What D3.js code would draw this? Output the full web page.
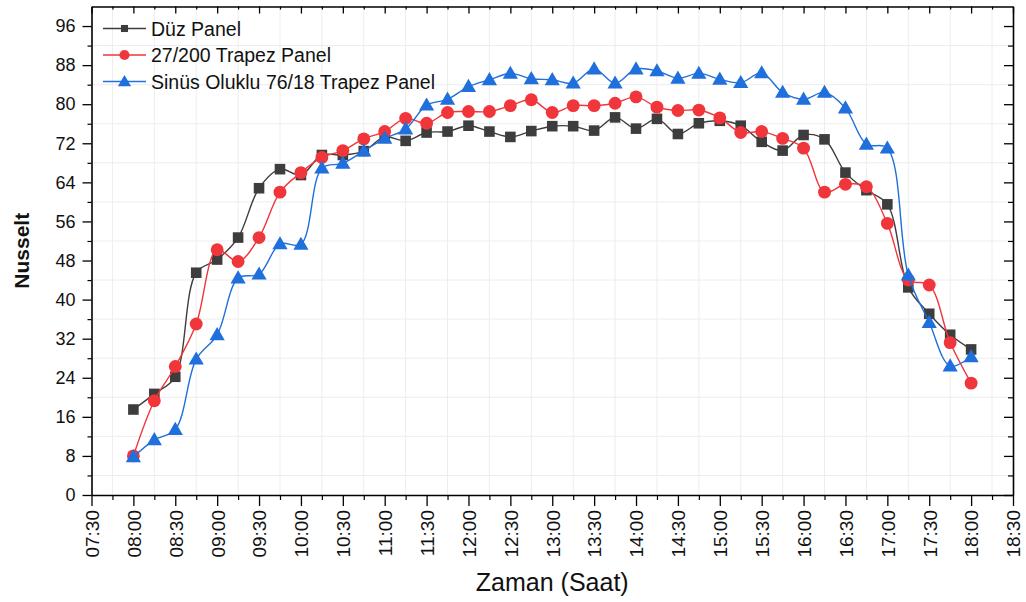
<!DOCTYPE html>
<html>
<head>
<meta charset="utf-8">
<script src="https://cdn.jsdelivr.net/npm/d3@7"></script>
<style>
  body { margin: 0; background: #fff; }
  svg { display: block; }
  text { font-family: "Liberation Sans", Arial, sans-serif; fill: #111; }
</style>
</head>
<body>
<svg id="chart" width="1026" height="602"></svg>
<script>
// Measurement times (every 15 minutes)
const times = [
  "08:00","08:15","08:30","08:45","09:00","09:15","09:30","09:45",
  "10:00","10:15","10:30","10:45","11:00","11:15","11:30","11:45",
  "12:00","12:15","12:30","12:45","13:00","13:15","13:30","13:45",
  "14:00","14:15","14:30","14:45","15:00","15:15","15:30","15:45",
  "16:00","16:15","16:30","16:45","17:00","17:15","17:30","17:45","18:00"
];

// Nusselt number per panel type
const duzPanel = [
  17.5, 20.7, 24.2, 45.5, 48.2, 52.7, 62.8, 66.7,
  65.5, 69.6, 69.6, 70.4, 73.3, 72.5, 74.2, 74.4,
  75.6, 74.4, 73.3, 74.5, 75.5, 75.5, 74.6, 77.3,
  75.0, 77.0, 73.9, 76.1, 76.6, 75.6, 72.3, 70.5,
  73.7, 72.8, 66.0, 62.4, 59.5, 42.5, 37.1, 32.8, 29.8
];
const trapez27 = [
  8.0, 19.3, 26.3, 35.0, 50.2, 47.8, 52.7, 62.0,
  66.0, 69.1, 70.5, 72.9, 74.4, 77.1, 76.1, 78.3,
  78.5, 78.5, 79.7, 80.9, 78.3, 79.7, 79.7, 80.2,
  81.5, 79.4, 78.7, 78.8, 77.2, 74.2, 74.4, 73.0,
  71.0, 62.0, 63.6, 63.1, 55.6, 44.0, 43.0, 31.2, 22.9
];
const sinus76 = [
  7.8, 11.3, 13.4, 27.8, 32.8, 44.4, 45.2, 51.4,
  51.3, 66.9, 67.9, 70.4, 73.0, 74.9, 79.8, 81.0,
  83.6, 85.0, 86.3, 85.2, 85.0, 84.3, 87.2, 84.3,
  87.2, 86.8, 85.3, 86.3, 85.1, 84.4, 86.4, 82.4,
  81.0, 82.4, 79.2, 71.8, 71.0, 45.0, 35.3, 26.4, 28.3
];

const seriesNames = ["Düz Panel", "27/200 Trapez Panel", "Sinüs Oluklu 76/18 Trapez Panel"];
const seriesColors = ["#3d3d3d", "#f0353b", "#1f6fdc"];
const seriesSymbols = ["square", "circle", "triangle"];

const xTickLabels = [
  "07:30","08:00","08:30","09:00","09:30","10:00","10:30","11:00","11:30","12:00",
  "12:30","13:00","13:30","14:00","14:30","15:00","15:30","16:00","16:30","17:00",
  "17:30","18:00","18:30"
];
const yTicks = [0, 8, 16, 24, 32, 40, 48, 56, 64, 72, 80, 88, 96];
const yDomain = [0, 100];

const xTitle = "Zaman (Saat)";
const yTitle = "Nusselt";

// ---- layout ----
const plot = { left: 91.5, right: 1013, top: 6.5, bottom: 495 };

const parse = d3.timeParse("%H:%M");
const fmt = d3.timeFormat("%H:%M");

const x = d3.scaleTime()
  .domain([parse(xTickLabels[0]), parse(xTickLabels[xTickLabels.length - 1])])
  .range([plot.left, plot.right]);
const y = d3.scaleLinear().domain(yDomain).range([plot.bottom, plot.top]);

const svg = d3.select("#chart");

// minor positions: halfway between major ticks
const xMajor = xTickLabels.map(parse);
const xMinor = d3.pairs(xMajor).map(([a, b]) => new Date((+a + +b) / 2));
const yMinor = d3.pairs(yTicks).map(([a, b]) => (a + b) / 2);

// ---- grid (light lines at the minor positions) ----
const grid = svg.append("g").attr("stroke", "#ededed").attr("stroke-width", 1);
grid.selectAll("line.v").data(xMinor).join("line").attr("class", "v")
  .attr("x1", d => x(d)).attr("x2", d => x(d))
  .attr("y1", plot.top).attr("y2", plot.bottom);
grid.selectAll("line.h").data(yMinor.concat([92])).join("line").attr("class", "h")
  .attr("x1", plot.left).attr("x2", plot.right)
  .attr("y1", d => y(d)).attr("y2", d => y(d));

// ---- axes ----
function styleAxis(g) {
  g.select(".domain").attr("stroke", "#000").attr("stroke-width", 1.6);
  g.selectAll(".tick line").attr("stroke", "#000").attr("stroke-width", 1.3);
}
function styleMinor(g) {
  g.select(".domain").remove();
  g.selectAll("line").attr("stroke", "#000").attr("stroke-width", 1.2);
}

// bottom (labels rotated)
const xAxis = svg.append("g").attr("transform", `translate(0,${plot.bottom})`)
  .call(d3.axisBottom(x).tickValues(xMajor).tickFormat(fmt).tickSize(11).tickSizeOuter(0));
styleAxis(xAxis);
xAxis.selectAll(".tick text")
  .attr("transform", "rotate(-90)")
  .attr("x", -15).attr("y", 0).attr("dy", "0.36em")
  .attr("text-anchor", "end")
  .style("font-size", "19px").style("fill", "#111");
svg.append("g").attr("transform", `translate(0,${plot.bottom})`)
  .call(d3.axisBottom(x).tickValues(xMinor).tickFormat("").tickSize(5).tickSizeOuter(0))
  .call(styleMinor);

// left
const yAxis = svg.append("g").attr("transform", `translate(${plot.left},0)`)
  .call(d3.axisLeft(y).tickValues(yTicks).tickSize(9).tickSizeOuter(0).tickPadding(7));
styleAxis(yAxis);
yAxis.selectAll(".tick text").style("font-size", "18px").style("fill", "#111");
svg.append("g").attr("transform", `translate(${plot.left},0)`)
  .call(d3.axisLeft(y).tickValues(yMinor).tickFormat("").tickSize(4).tickSizeOuter(0))
  .call(styleMinor);

// top (inward ticks, no labels)
const topAxis = svg.append("g").attr("transform", `translate(0,${plot.top})`)
  .call(d3.axisBottom(x).tickValues(xMajor).tickFormat("").tickSize(7).tickSizeOuter(0));
styleAxis(topAxis);
svg.append("g").attr("transform", `translate(0,${plot.top})`)
  .call(d3.axisBottom(x).tickValues(xMinor).tickFormat("").tickSize(3).tickSizeOuter(0))
  .call(styleMinor);

// right (inward ticks, no labels)
const rightAxis = svg.append("g").attr("transform", `translate(${plot.right},0)`)
  .call(d3.axisLeft(y).tickValues(yTicks).tickFormat("").tickSize(9).tickSizeOuter(0));
styleAxis(rightAxis);
svg.append("g").attr("transform", `translate(${plot.right},0)`)
  .call(d3.axisLeft(y).tickValues(yMinor).tickFormat("").tickSize(5).tickSizeOuter(0))
  .call(styleMinor);

// ---- axis titles ----
svg.append("text")
  .attr("x", (plot.left + plot.right) / 2).attr("y", 591)
  .attr("text-anchor", "middle")
  .style("font-size", "25px")
  .text(xTitle);
svg.append("text")
  .attr("transform", `translate(29,${(plot.top + plot.bottom) / 2}) rotate(-90)`)
  .attr("text-anchor", "middle")
  .style("font-size", "21px").style("font-weight", "bold")
  .text(yTitle);

// ---- series ----
const symbolTypes = { square: d3.symbolSquare, circle: d3.symbolCircle, triangle: d3.symbolTriangle };
const symbolSizes = { square: 112, circle: 130, triangle: 100 };
const line = d3.line()
  .x(d => x(d.t))
  .y(d => y(d.v))
  .curve(d3.curveCatmullRom.alpha(0.5));

const allSeries = [duzPanel, trapez27, sinus76];
allSeries.forEach((vals, i) => {
  const pts = vals.map((v, k) => ({ t: parse(times[k]), v }));
  const g = svg.append("g");
  g.append("path").datum(pts)
    .attr("fill", "none")
    .attr("stroke", seriesColors[i])
    .attr("stroke-width", 1.4)
    .attr("d", line);
  const s = seriesSymbols[i];
  const sym = d3.symbol().type(symbolTypes[s]).size(symbolSizes[s]);
  g.selectAll("path.mk").data(pts).join("path")
    .attr("class", "mk")
    .attr("transform", d => `translate(${x(d.t)},${y(d.v) + (s === "triangle" ? 1 : 0)})`)
    .attr("d", sym)
    .attr("fill", seriesColors[i]);
});

// ---- legend ----
const legend = svg.append("g");
seriesNames.forEach((name, i) => {
  const cy = 28.5 + i * 26.5;
  const row = legend.append("g").attr("transform", `translate(0,${cy})`);
  row.append("line")
    .attr("x1", 103).attr("x2", 146).attr("y1", 0).attr("y2", 0)
    .attr("stroke", seriesColors[i]).attr("stroke-width", 1.5);
  const s = seriesSymbols[i];
  row.append("path")
    .attr("transform", `translate(124.5,${s === "triangle" ? 1 : 0})`)
    .attr("d", d3.symbol().type(symbolTypes[s]).size(s === "square" ? 50 : s === "circle" ? 80 : 75))
    .attr("fill", seriesColors[i]);
  row.append("text")
    .attr("x", 151).attr("y", 0).attr("dy", "0.36em")
    .style("font-size", "19.5px")
    .text(name);
});
</script>
</body>
</html>
